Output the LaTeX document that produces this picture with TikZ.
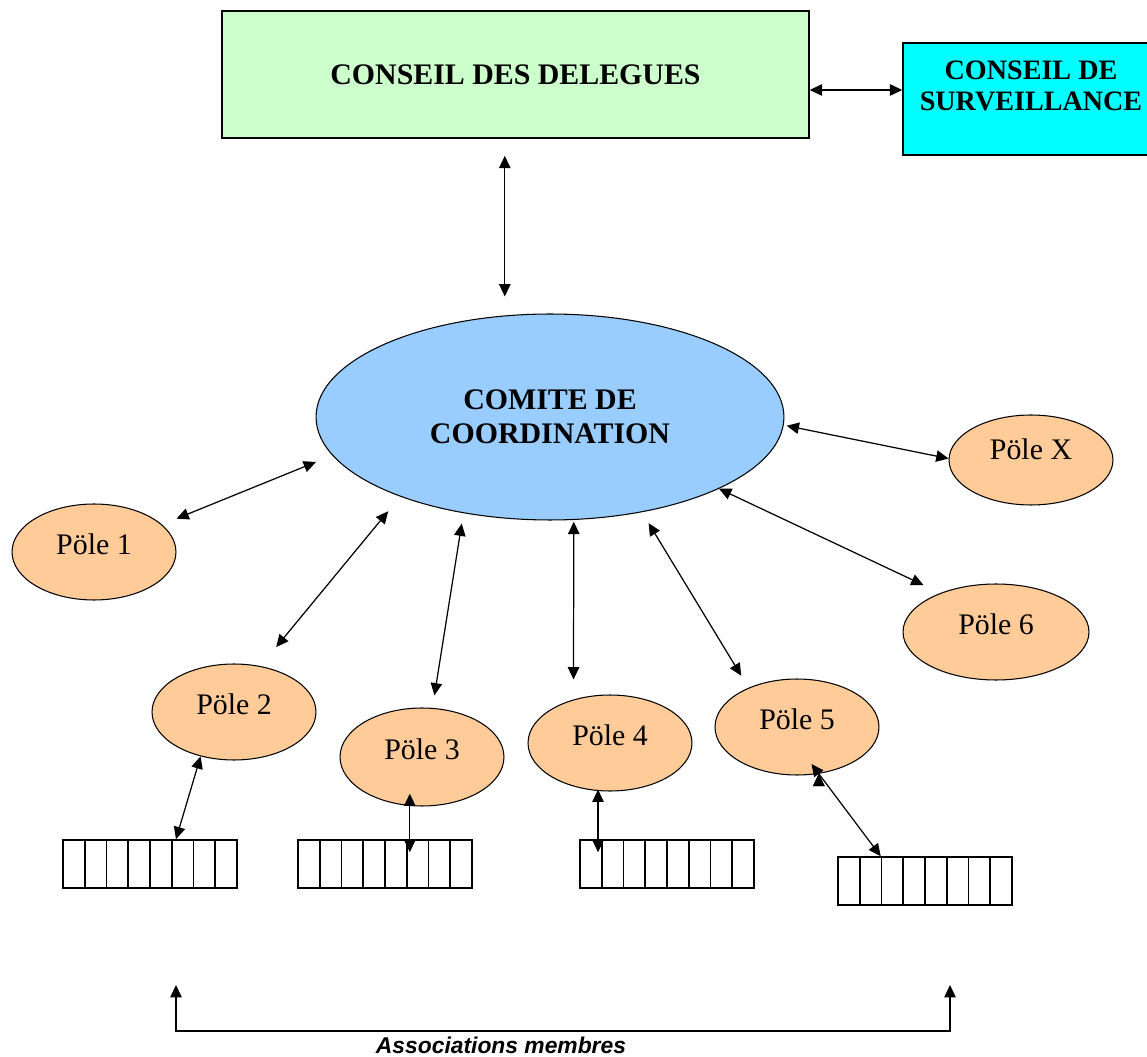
\documentclass[tikz,border=0pt]{standalone}
\usepackage{fontspec}
\setmainfont{Liberation Serif}
\newfontfamily\assocfont{Liberation Sans}
\definecolor{delegcolor}{HTML}{CCFFCC}
\definecolor{survcolor}{HTML}{00FFFF}
\definecolor{comitecolor}{HTML}{99CCFF}
\definecolor{polecolor}{HTML}{FFCC99}
\usetikzlibrary{arrows.meta,shapes,positioning}
\tikzset{
	conseil/.style={
		rectangle,
		draw=black,
		line width=0.9pt,
		font=\bfseries\fontsize{17}{19.5}\selectfont,
		align=center
	},
	coord/.style={
		ellipse,
		draw=black,
		line width=0.6pt,
		fill=comitecolor,
		minimum width=93.6mm,
		minimum height=41.2mm,
		font=\bfseries\fontsize{17}{19.5}\selectfont,
		align=center
	},
	pole/.style={
		ellipse,
		draw=black,
		line width=0.6pt,
		fill=polecolor,
		minimum width=32.8mm,
		minimum height=19.2mm,
		text depth=9pt,
		font=\fontsize{17}{19}\selectfont
	},
	cell/.style={
		rectangle,
		draw=black,
		line width=0.9pt,
		minimum width=4.35mm,
		minimum height=9.6mm,
		inner sep=0pt
	},
	arrow/.style={
		draw=black,
		line width=0.7pt,
		{Triangle[length=7pt,width=6.5pt]}-{Triangle[length=7pt,width=6.5pt]}
	},
	members/.style={
		font=\assocfont\bfseries\itshape\fontsize{13}{15}\selectfont
	},
}

\begin{document}
\begin{tikzpicture}[x=0.02cm,y=-0.02cm]
\useasboundingbox (0,0) rectangle (1147,1057);
\node[conseil,fill=delegcolor,minimum width=117.4mm,minimum height=25.4mm] (deleg) at (515.5,74.5) {CONSEIL DES DELEGUES};
\node[conseil,fill=survcolor,minimum width=51.2mm,minimum height=22.4mm,text depth=15pt,font=\bfseries\fontsize{16}{17.6}\selectfont] (surv) at (1031,99) {CONSEIL DE\\SURVEILLANCE};
\node[coord] (comite) at (550,417) {COMITE DE\\COORDINATION};
\node[pole] (p1) at (94,552) {Pöle 1};
\node[pole] (p2) at (234,712) {Pöle 2};
\node[pole,minimum height=19.6mm] (p3) at (422,757) {Pöle 3};
\node[pole] (p4) at (610,743) {Pöle 4};
\node[pole] (p5) at (797,727) {Pöle 5};
\node[pole,minimum width=37.2mm] (p6) at (996,632) {Pöle 6};
\node[pole,minimum height=18mm,text depth=12pt] (px) at (1031,460) {Pöle X};
% rangees d'associations
\foreach \bx/\by [count=\k] in {63/840,298/840,580/840,838/857}
	\foreach \i in {1,...,8}
		\node[cell] (a\k-\i) at ({\bx+(\i-0.5)*21.75},{\by+24}) {};
\path[arrow]
(deleg.east |- surv.176) edge (surv.176)
(comite.114 |- deleg.south) edge[shorten <=9.7pt,shorten >=10.8pt] (comite.114)
(p1.22) edge[shorten <=8.9pt,shorten >=10pt] (comite.190)
(p2.60) edge[shorten <=14pt,shorten >=10.8pt] (comite.208)
(p3.78) edge[shorten <=7.2pt,shorten >=6pt] (comite.228)
(p4.130) edge[shorten <=11.4pt,shorten >=1pt] (comite.283)
(p5.141) edge[shorten <=8pt,shorten >=7.3pt] (comite.314)
(p6.145) edge[shorten <=10.6pt] (comite.337)
(px.179) edge[shorten >=1.7pt] (comite.358)
(p2.233) edge (a1-6.105)
(p3.256) edge[shorten <=-7pt,shorten >=-7.4pt] (p3.256 |- a2-6.north)
(p4.256) edge[shorten <=-0.8pt,shorten >=-7.4pt] (p4.256 |- a3-1.north)
(p5.295) edge[shorten <=-7pt] (a4-3.north west)
;
\coordinate (memleft) at (176,985);
\coordinate (memright) at (950,985);
\draw[arrow] (memleft) -- ++(0,46) -| (memright);
\node[members] (assoc) at (501,1045) {Associations membres};
\end{tikzpicture}
\end{document}
